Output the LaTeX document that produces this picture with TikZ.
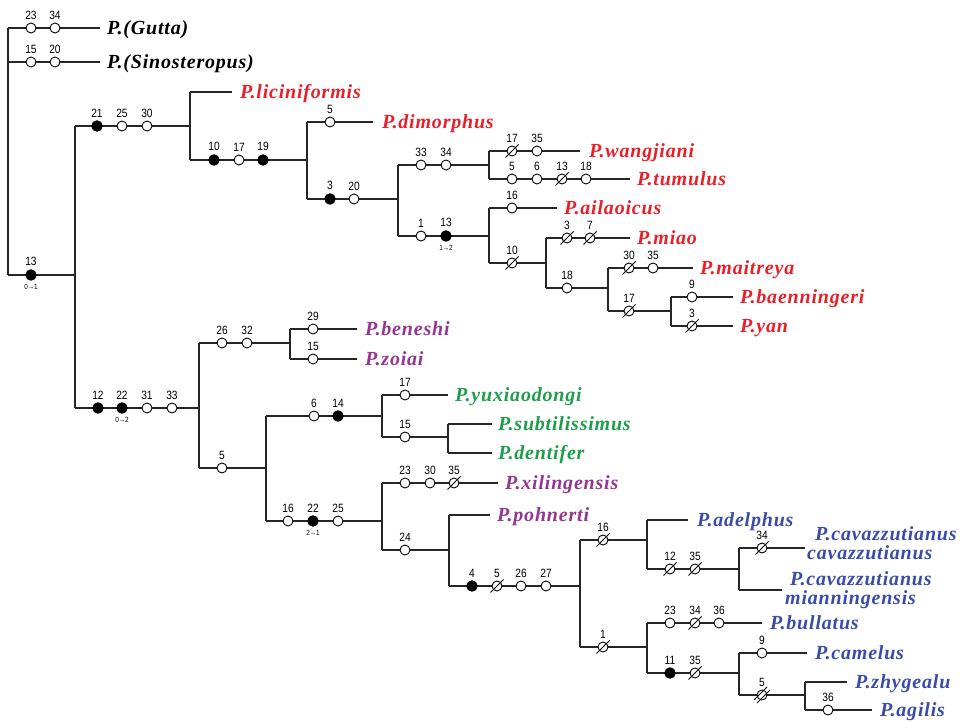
\documentclass[tikz,border=0pt]{standalone}
\usepackage{fontspec}
\setmainfont{Liberation Serif}
\newfontfamily\taxfont[LetterSpace=4]{Liberation Serif Bold Italic}
\newfontfamily\numfont[FakeStretch=0.85]{Liberation Sans}
\definecolor{tred}{HTML}{E8202A}
\definecolor{tpur}{HTML}{94368F}
\definecolor{tgrn}{HTML}{1E9E4A}
\definecolor{tblu}{HTML}{3A4CA8}
\tikzset{
  br/.style={line width=1.2pt, draw=black!85},
  op/.style={circle, draw=black, fill=white, line width=0.9pt, minimum size=10pt, inner sep=0pt},
  cl/.style={circle, draw=black, fill=black, line width=0.9pt, minimum size=10.5pt, inner sep=0pt},
  slash/.style={line width=0.9pt, draw=black},
  num/.style={font=\numfont\fontsize{12}{12}\selectfont, inner sep=0pt, label distance=3pt},
  subl/.style={font=\numfont\fontsize{7.5}{7.5}\selectfont, inner sep=0pt, label distance=3pt},
  tax/.style={anchor=base west, inner sep=0pt, yshift=-6.5pt, font=\taxfont\fontsize{20}{17}\selectfont},
  tax2/.style={tax, text width=170pt, align=left, font=\taxfont\fontsize{20}{19.5}\selectfont},
}
\newcommand\mkO[4]{\node[op,label={[num]above:#4}] (#1) at (#2,#3) {};}
\newcommand\mkC[4]{\node[cl,label={[num]above:#4}] (#1) at (#2,#3) {};}
\newcommand\mkCs[5]{\node[cl,label={[num]above:#4},label={[subl]below:#5}] (#1) at (#2,#3) {};}
\newcommand\mkS[4]{\mkO{#1}{#2}{#3}{#4}\draw[slash] (#1.center) ++(-6.5,6.5) -- ++(13,-13);}
\newcommand\mkD[4]{\mkO{#1}{#2}{#3}{#4}\draw[slash] (#1.center) ++(-5,8) -- ++(13,-13);\draw[slash] (#1.center) ++(-8,5) -- ++(13,-13);}
\begin{document}
\begin{tikzpicture}[x=1pt,y=-1pt]
\fill[white] (0,0) rectangle (970,722);
\useasboundingbox (0,0) rectangle (970,722);
% ---------- coordinates ----------
\coordinate (Rt) at (8,28); \coordinate (R62) at (8,62); \coordinate (Rb) at (8,275);
\coordinate (gE) at (100,28); \coordinate (sE) at (100,62);
\coordinate (A) at (75,275); \coordinate (At) at (75,126); \coordinate (Ab) at (75,408);
\coordinate (B) at (190,126); \coordinate (Bt) at (190,92); \coordinate (Bb) at (190,160);
\coordinate (licE) at (232,92);
\coordinate (C) at (307,160); \coordinate (Ct) at (307,122); \coordinate (Cb) at (307,199);
\coordinate (dimE) at (373,122);
\coordinate (D) at (398,199); \coordinate (Dt) at (398,165); \coordinate (Db) at (398,236);
\coordinate (E) at (489,165); \coordinate (Et) at (489,151); \coordinate (Eb) at (489,179);
\coordinate (wanE) at (580,151); \coordinate (tumE) at (630,179);
\coordinate (F) at (489,236); \coordinate (Ft) at (489,208); \coordinate (Fb) at (489,263);
\coordinate (ailE) at (557,208);
\coordinate (G) at (546,263); \coordinate (Gt) at (546,238); \coordinate (Gb) at (546,288);
\coordinate (miaE) at (630,238);
\coordinate (H) at (608,288); \coordinate (Ht) at (608,268); \coordinate (Hb) at (608,311);
\coordinate (maiE) at (693,268);
\coordinate (I) at (671,311); \coordinate (It) at (671,297); \coordinate (Ib) at (671,326);
\coordinate (baeE) at (733,297); \coordinate (yanE) at (733,326);
\coordinate (J) at (199,408); \coordinate (Jt) at (199,343); \coordinate (Jb) at (199,468);
\coordinate (K) at (290,343); \coordinate (Kt) at (290,329); \coordinate (Kb) at (290,359);
\coordinate (benE) at (357,329); \coordinate (zoiE) at (357,359);
\coordinate (L) at (266,468); \coordinate (Lt) at (266,416); \coordinate (Lb) at (266,521);
\coordinate (M) at (382,416); \coordinate (Mt) at (382,395); \coordinate (Mb) at (382,437);
\coordinate (yuxE) at (448,395);
\coordinate (N) at (448,437); \coordinate (Nt) at (448,424); \coordinate (Nb) at (448,453);
\coordinate (subE) at (492,424); \coordinate (denE) at (492,453);
\coordinate (O) at (382,521); \coordinate (Ot) at (382,483); \coordinate (Ob) at (382,550);
\coordinate (xilE) at (498,483);
\coordinate (P) at (449,550); \coordinate (Pt) at (449,515); \coordinate (Pb) at (449,586);
\coordinate (pohE) at (490,515);
\coordinate (Q) at (580,586); \coordinate (Qt) at (580,540); \coordinate (Qb) at (580,647);
\coordinate (S) at (647,540); \coordinate (St) at (647,520); \coordinate (Sb) at (647,569);
\coordinate (adeE) at (688,520);
\coordinate (T) at (739,569); \coordinate (Tt) at (739,548); \coordinate (Tb) at (739,590);
\coordinate (ccE) at (805,548); \coordinate (cmE) at (782,590);
\coordinate (U) at (647,647); \coordinate (Ut) at (647,623); \coordinate (Ub) at (647,673);
\coordinate (bulE) at (762,623);
\coordinate (V) at (739,673); \coordinate (Vt) at (739,653); \coordinate (Vb) at (739,695);
\coordinate (camE) at (807,653);
\coordinate (W) at (805,695); \coordinate (Wt) at (805,682); \coordinate (Wb) at (805,710);
\coordinate (zhyE) at (847,682); \coordinate (agiE) at (872,710);
% ---------- branches ----------
\draw[br] (Rt) -- (Rb); \draw[br] (Rt) -- (gE); \draw[br] (R62) -- (sE); \draw[br] (Rb) -- (A);
\draw[br] (At) -- (Ab); \draw[br] (At) -- (B);
\draw[br] (Bt) -- (Bb); \draw[br] (Bt) -- (licE); \draw[br] (Bb) -- (C);
\draw[br] (Ct) -- (Cb); \draw[br] (Ct) -- (dimE); \draw[br] (Cb) -- (D);
\draw[br] (Dt) -- (Db); \draw[br] (Dt) -- (E); \draw[br] (Db) -- (F);
\draw[br] (Et) -- (Eb); \draw[br] (Et) -- (wanE); \draw[br] (Eb) -- (tumE);
\draw[br] (Ft) -- (Fb); \draw[br] (Ft) -- (ailE); \draw[br] (Fb) -- (G);
\draw[br] (Gt) -- (Gb); \draw[br] (Gt) -- (miaE); \draw[br] (Gb) -- (H);
\draw[br] (Ht) -- (Hb); \draw[br] (Ht) -- (maiE); \draw[br] (Hb) -- (I);
\draw[br] (It) -- (Ib); \draw[br] (It) -- (baeE); \draw[br] (Ib) -- (yanE);
\draw[br] (Ab) -- (J);
\draw[br] (Jt) -- (Jb); \draw[br] (Jt) -- (K); \draw[br] (Jb) -- (L);
\draw[br] (Kt) -- (Kb); \draw[br] (Kt) -- (benE); \draw[br] (Kb) -- (zoiE);
\draw[br] (Lt) -- (Lb); \draw[br] (Lt) -- (M); \draw[br] (Lb) -- (O);
\draw[br] (Mt) -- (Mb); \draw[br] (Mt) -- (yuxE); \draw[br] (Mb) -- (N);
\draw[br] (Nt) -- (Nb); \draw[br] (Nt) -- (subE); \draw[br] (Nb) -- (denE);
\draw[br] (Ot) -- (Ob); \draw[br] (Ot) -- (xilE); \draw[br] (Ob) -- (P);
\draw[br] (Pt) -- (Pb); \draw[br] (Pt) -- (pohE); \draw[br] (Pb) -- (Q);
\draw[br] (Qt) -- (Qb); \draw[br] (Qt) -- (S); \draw[br] (Qb) -- (U);
\draw[br] (St) -- (Sb); \draw[br] (St) -- (adeE); \draw[br] (Sb) -- (T);
\draw[br] (Tt) -- (Tb); \draw[br] (Tt) -- (ccE); \draw[br] (Tb) -- (cmE);
\draw[br] (Ut) -- (Ub); \draw[br] (Ut) -- (bulE); \draw[br] (Ub) -- (V);
\draw[br] (Vt) -- (Vb); \draw[br] (Vt) -- (camE); \draw[br] (Vb) -- (W);
\draw[br] (Wt) -- (Wb); \draw[br] (Wt) -- (zhyE); \draw[br] (Wb) -- (agiE);
% ---------- characters ----------
\mkO{m1}{31}{28}{23} \mkO{m2}{55}{28}{34}
\mkO{m3}{31}{62}{15} \mkO{m4}{55}{62}{20}
\mkCs{m5}{31}{275}{13}{0→1}
\mkC{m6}{97}{126}{21} \mkO{m7}{122}{126}{25} \mkO{m8}{147}{126}{30}
\mkC{m9}{214}{160}{10} \mkO{m10}{239}{160}{17} \mkC{m11}{263}{160}{19}
\mkO{m12}{330}{122}{5}
\mkC{m13}{330}{199}{3} \mkO{m14}{354}{199}{20}
\mkO{m15}{421}{165}{33} \mkO{m16}{446}{165}{34}
\mkS{m17}{512}{151}{17} \mkO{m18}{537}{151}{35}
\mkO{m19}{512}{179}{5} \mkO{m20}{537}{179}{6} \mkS{m21}{562}{179}{13} \mkO{m22}{586}{179}{18}
\mkO{m23}{421}{236}{1} \mkCs{m24}{446}{236}{13}{1→2}
\mkO{m25}{512}{208}{16}
\mkS{m26}{512}{263}{10}
\mkS{m27}{567}{238}{3} \mkS{m28}{590}{238}{7}
\mkO{m29}{567}{288}{18}
\mkS{m30}{629}{268}{30} \mkO{m31}{653}{268}{35}
\mkS{m32}{629}{311}{17}
\mkO{m33}{692}{297}{9}
\mkS{m34}{692}{326}{3}
\mkC{m35}{98}{408}{12} \mkCs{m36}{122}{408}{22}{0→2} \mkO{m37}{147}{408}{31} \mkO{m38}{172}{408}{33}
\mkO{m39}{222}{343}{26} \mkO{m40}{247}{343}{32}
\mkO{m41}{313}{329}{29}
\mkO{m42}{313}{359}{15}
\mkO{m43}{222}{468}{5}
\mkO{m44}{314}{416}{6} \mkC{m45}{338}{416}{14}
\mkO{m46}{405}{395}{17}
\mkO{m47}{405}{437}{15}
\mkO{m48}{288}{521}{16} \mkCs{m49}{313}{521}{22}{2→1} \mkO{m50}{338}{521}{25}
\mkO{m51}{405}{483}{23} \mkO{m52}{430}{483}{30} \mkS{m53}{454}{483}{35}
\mkO{m54}{405}{550}{24}
\mkC{m55}{472}{586}{4} \mkS{m56}{497}{586}{5} \mkO{m57}{521}{586}{26} \mkO{m58}{546}{586}{27}
\mkS{m59}{603}{540}{16}
\mkS{m60}{670}{569}{12} \mkS{m61}{695}{569}{35}
\mkS{m62}{762}{548}{34}
\mkS{m63}{603}{647}{1}
\mkO{m64}{670}{623}{23} \mkS{m65}{695}{623}{34} \mkO{m66}{719}{623}{36}
\mkC{m67}{670}{673}{11} \mkS{m68}{695}{673}{35}
\mkO{m69}{762}{653}{9}
\mkD{m70}{762}{695}{5}
\mkO{m71}{828}{710}{36}
% ---------- taxa ----------
\node[tax] (gut) at (107,28) {P.(Gutta)};
\node[tax] (sin) at (107,62) {P.(Sinosteropus)};
\node[tax,text=tred] (lic) at (240,92) {P.liciniformis};
\node[tax,text=tred] (dim) at (382,122) {P.dimorphus};
\node[tax,text=tred] (wan) at (589,151) {P.wangjiani};
\node[tax,text=tred] (tum) at (637,179) {P.tumulus};
\node[tax,text=tred] (ail) at (564,208) {P.ailaoicus};
\node[tax,text=tred] (mia) at (637,238) {P.miao};
\node[tax,text=tred] (mai) at (700,268) {P.maitreya};
\node[tax,text=tred] (bae) at (740,297) {P.baenningeri};
\node[tax,text=tred] (yan) at (740,326) {P.yan};
\node[tax,text=tpur] (ben) at (365,329) {P.beneshi};
\node[tax,text=tpur] (zoi) at (365,359) {P.zoiai};
\node[tax,text=tgrn] (yux) at (455,395) {P.yuxiaodongi};
\node[tax,text=tgrn] (sub) at (498,424) {P.subtilissimus};
\node[tax,text=tgrn] (den) at (498,453) {P.dentifer};
\node[tax,text=tpur] (xil) at (505,483) {P.xilingensis};
\node[tax,text=tpur] (poh) at (497,515) {P.pohnerti};
\node[tax,text=tblu] (ade) at (697,520) {P.adelphus};
\node[tax2,text=tblu] (cc) at (815,533.5) {P.cavazzutianus\\\hspace*{-8pt}cavazzutianus};
\node[tax2,text=tblu] (cm) at (790,578.5) {P.cavazzutianus\\\hspace*{-5pt}mianningensis};
\node[tax,text=tblu] (bul) at (770,623) {P.bullatus};
\node[tax,text=tblu] (cam) at (815,653) {P.camelus};
\node[tax,text=tblu] (zhy) at (855,682) {P.zhygealu};
\node[tax,text=tblu] (agi) at (880,710) {P.agilis};
\end{tikzpicture}
\end{document}
